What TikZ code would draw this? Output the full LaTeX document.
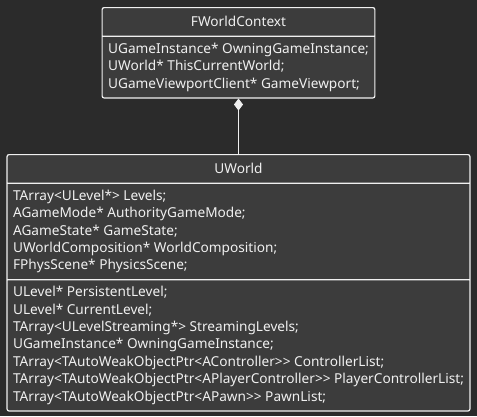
\documentclass[tikz,border=0pt]{standalone}
\usepackage{fontspec}
\setmainfont{Noto Sans}
\usepackage{xcolor}
\usetikzlibrary{shapes.multipart,arrows.meta}

\definecolor{bgdark}{RGB}{43,43,43}
\definecolor{boxdark}{RGB}{60,60,60}
\definecolor{lineblue}{RGB}{240,240,240}
\newcommand{\hdstrut}{\rule[-3.5pt]{0pt}{15.5pt}}

\tikzset{
    umlclass/.style={rectangle split, rectangle split parts=#1, draw=lineblue, fill=boxdark,
        text=lineblue, line width=1.2pt, rounded corners=2pt, align=left,
        rectangle split part align={center,left,left},
        inner xsep=6pt, inner ysep=6pt,
        font=\fontsize{13.65}{17.4}\selectfont},
    owns/.style={draw=lineblue, line width=0.9pt, {Diamond[length=12pt,width=9pt,fill=lineblue]}-}
}

\begin{document}
\begin{tikzpicture}[x=1pt,y=-1pt]
    \fill[bgdark] (0,0) rectangle (477,416);
    \useasboundingbox (0,0) rectangle (477,416);
    % context box
    \node[umlclass=2, anchor=north] (context) at (238.5,7) {\hdstrut FWorldContext
        \nodepart{two}UGameInstance* OwningGameInstance;\\
        UWorld* ThisCurrentWorld;\\
        UGameViewportClient* GameViewport;};
    % world box
    \node[umlclass=3, anchor=north] (world) at (238.5,154) {\hdstrut UWorld
        \nodepart{two}TArray<ULevel*> Levels;\\
        AGameMode* AuthorityGameMode;\\
        AGameState* GameState;\\
        UWorldComposition* WorldComposition;\\
        FPhysScene* PhysicsScene;
        \nodepart{three}ULevel* PersistentLevel;\\
        ULevel* CurrentLevel;\\
        TArray<ULevelStreaming*> StreamingLevels;\\
        UGameInstance* OwningGameInstance;\\
        TArray<TAutoWeakObjectPtr<AController>{}> ControllerList;\\
        TArray<TAutoWeakObjectPtr<APlayerController>{}> PlayerControllerList;\\
        TArray<TAutoWeakObjectPtr<APawn>{}> PawnList;};
    \path[owns] (context.south) -- (world.north);
\end{tikzpicture}
\end{document}
